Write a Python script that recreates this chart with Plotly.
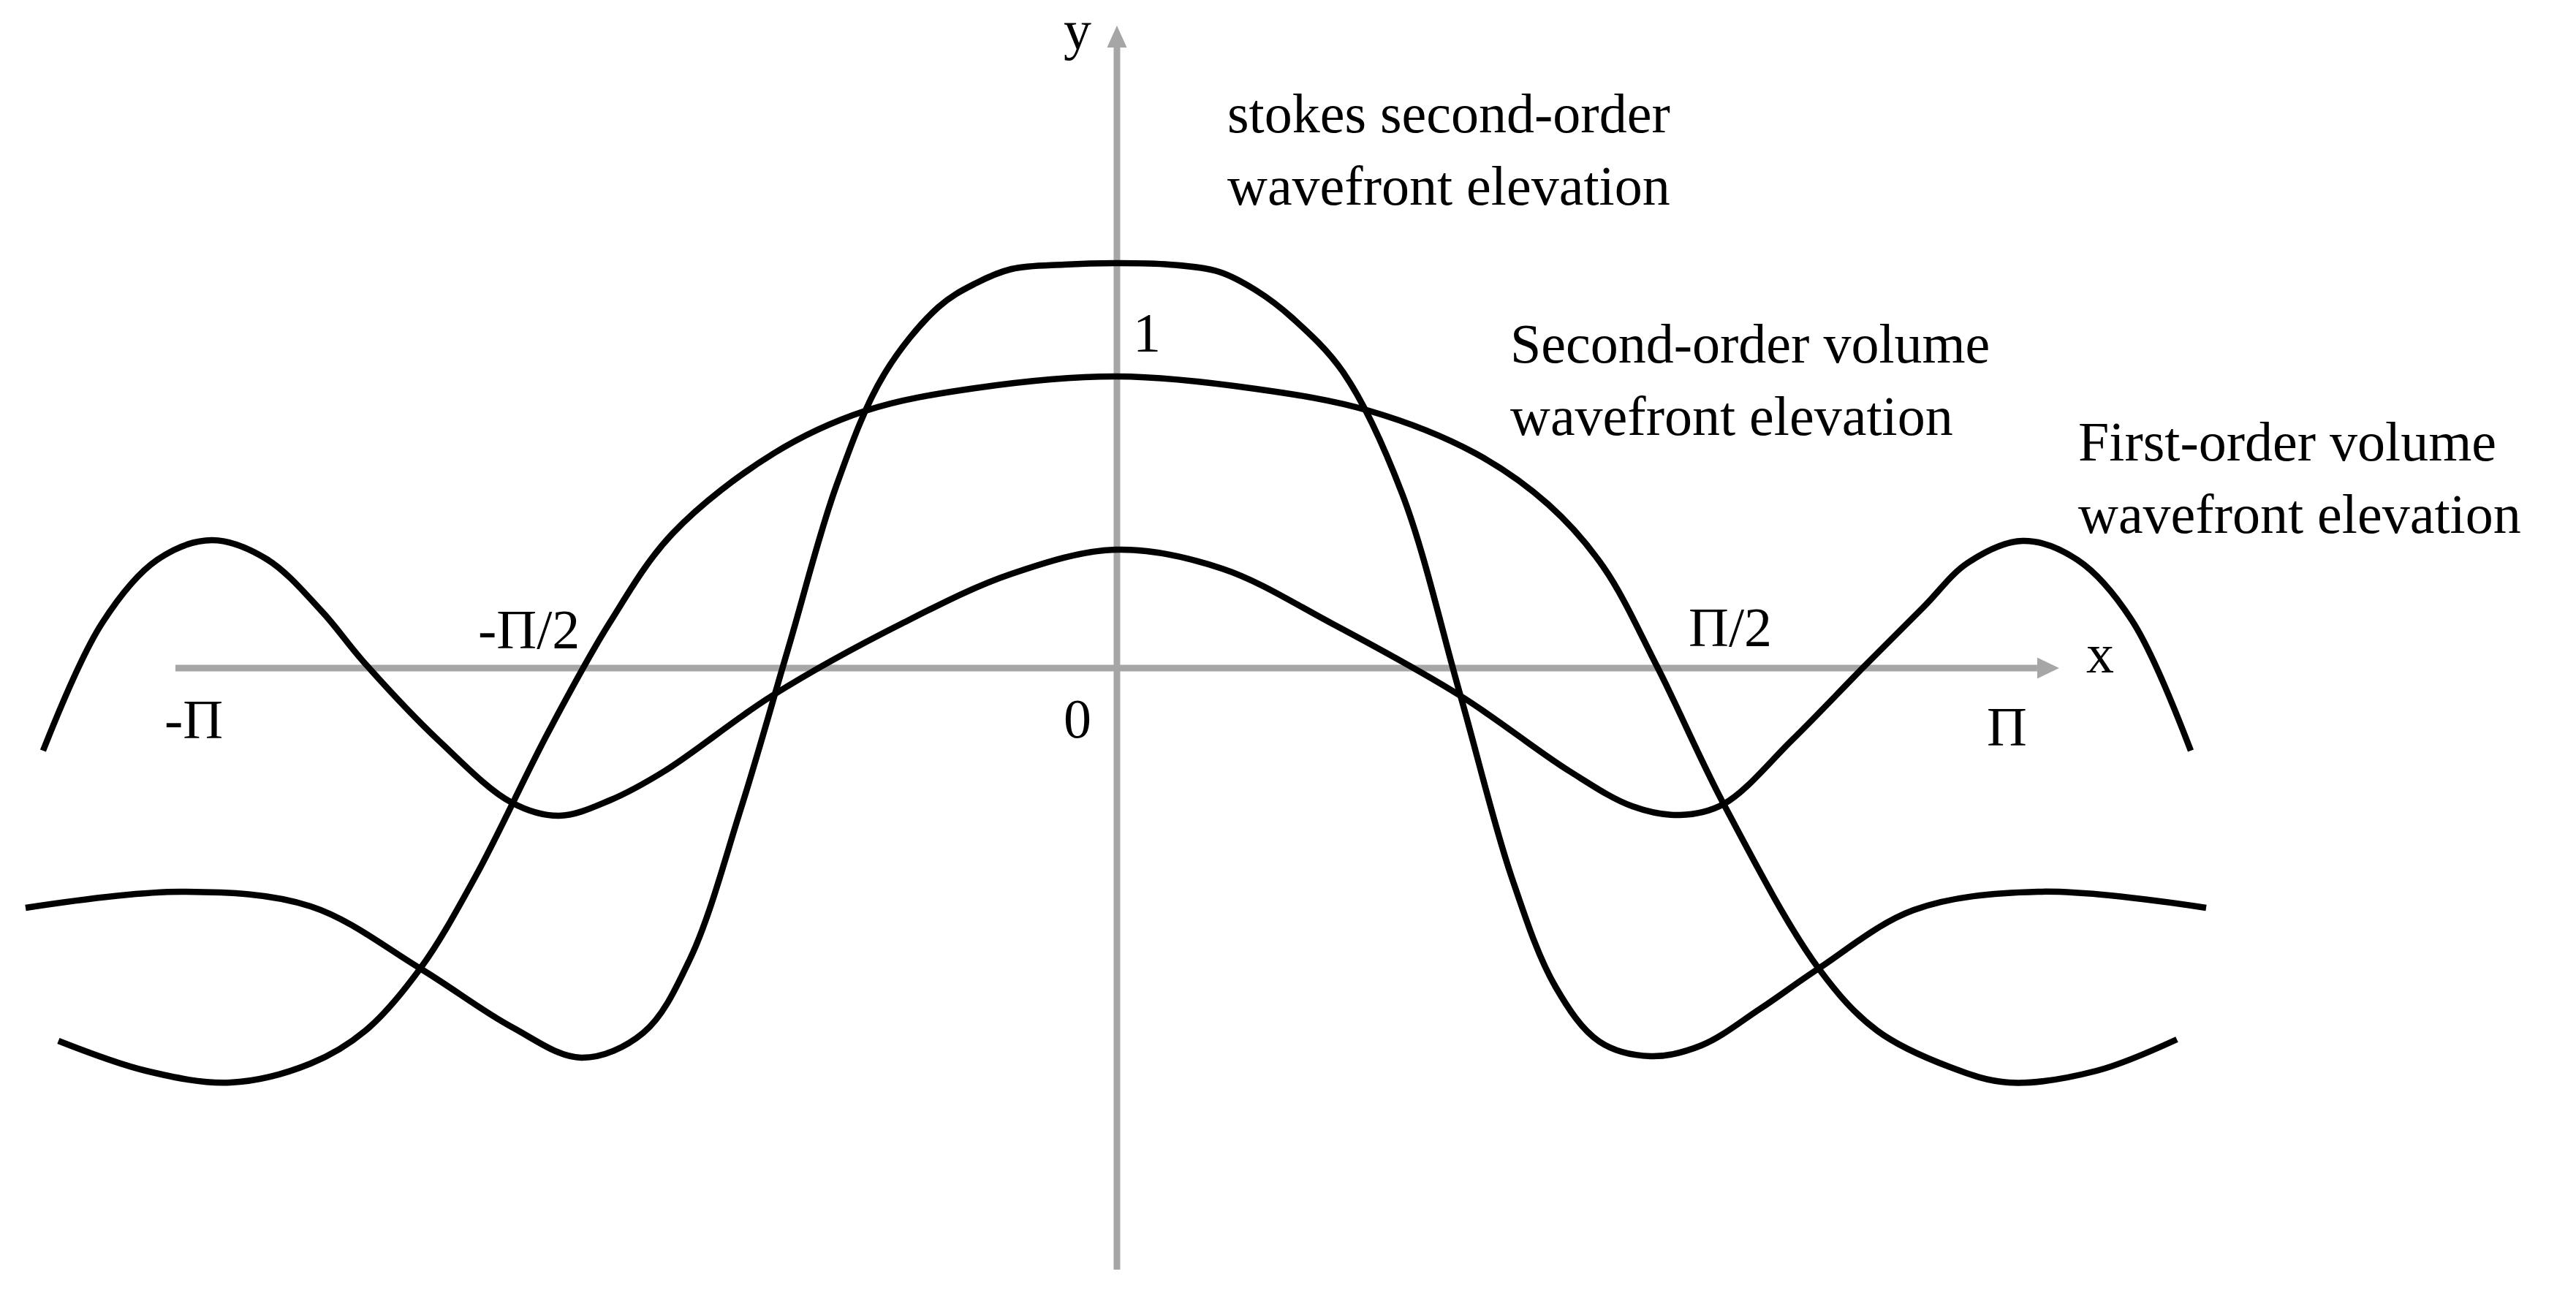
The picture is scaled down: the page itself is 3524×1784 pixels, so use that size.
import plotly.graph_objects as go

# x in units of pi, y in units of the "1" mark on the y axis
# first-order volume wavefront elevation
first_x = [-1.1895, -1.1239, -1.0632, -1.0024, -0.9417, -0.8810, -0.8348, -0.7514, -0.6704, -0.6178,
           -0.5619, -0.5012, -0.3822, -0.2381, -0.1166, 0.0,
           0.1166, 0.2381, 0.3806, 0.5012, 0.5709, 0.6235, 0.6721, 0.7482, 0.8275, 0.8939,
           0.9425, 1.0032, 1.0640, 1.1239, 1.1895]
first_y = [-0.2825, 0.155, 0.37, 0.4375, 0.3725, 0.195, 0.0225, -0.2475, -0.46, -0.505,
           -0.4525, -0.3525, -0.095, 0.1525, 0.3225, 0.405,
           0.34, 0.1525, -0.095, -0.3525, -0.4725, -0.5025, -0.465, -0.245, 0.005, 0.21,
           0.36, 0.435, 0.37, 0.165, -0.2825]

# second-order volume wavefront elevation
second_x = [-1.1725, -1.0753, -0.9822, -0.8931, -0.8324, -0.7717, -0.7109, -0.6300, -0.5619, -0.4923,
            -0.3798, -0.2785, -0.1571, 0.0,
            0.1538, 0.2794, 0.3968, 0.4777, 0.5385, 0.5992, 0.6721, 0.7773, 0.8421, 0.9231,
            0.9879, 1.0850, 1.1741]
second_y = [-1.275, -1.3775, -1.4175, -1.3525, -1.24, -1.0275, -0.715, -0.22, 0.155, 0.46,
            0.735, 0.88, 0.9575, 0.9975,
            0.955, 0.88, 0.735, 0.56, 0.3475, 0.0, -0.465, -1.0275, -1.24, -1.365,
            -1.4175, -1.3775, -1.27]

# stokes second-order wavefront elevation
stokes_x = [-1.2089, -1.0348, -0.8931, -0.7717, -0.6704, -0.5935, -0.5247, -0.4729, -0.4162, -0.3636,
            -0.3109, -0.2583, -0.1976, -0.1571, -0.1166, -0.0583, 0.0,
            0.0583, 0.1134, 0.1538, 0.1943, 0.2510, 0.3158, 0.3806, 0.4372, 0.4858, 0.5344,
            0.5911, 0.6478, 0.7126, 0.7773, 0.8826, 1.0202, 1.2065]
stokes_y = [-0.82, -0.765, -0.815, -1.0275, -1.2275, -1.3325, -1.2475, -0.995, -0.4775, 0.0725,
            0.6225, 1.0025, 1.235, 1.315, 1.365, 1.38, 1.385,
            1.38, 1.355, 1.2925, 1.1975, 1.01, 0.5975, -0.095, -0.715, -1.09, -1.2775,
            -1.3275, -1.29, -1.165, -1.0275, -0.8275, -0.765, -0.82]

tick_labels = ["-Π", "-Π/2", "0", "Π/2", "Π"]
curve_labels = ["stokes second-order<br>wavefront elevation",
                "Second-order volume<br>wavefront elevation",
                "First-order volume<br>wavefront elevation"]

X_RANGE = [-1.2372, 1.6162]
Y_RANGE = [-2.175, 2.285]
AXIS_COLOR = "#a6a6a6"
FONT = dict(family="Liberation Serif, Times New Roman, serif", size=76, color="black")

fig = go.Figure()

for xs, ys in [(first_x, first_y), (second_x, second_y), (stokes_x, stokes_y)]:
    fig.add_trace(go.Scatter(x=xs, y=ys, mode="lines",
                             line=dict(color="black", width=8.5, shape="spline", smoothing=1.0),
                             hoverinfo="skip", showlegend=False))

# axes with arrow heads
x_left, x_tip = -1.0429, 1.0437
y_bottom, y_tip = -2.0575, 2.1975
hx, hy = 0.0243, 0.03625      # x-arrow length / half width
vx, vy = 0.01093, 0.075       # y-arrow half width / length
fig.add_shape(type="line", x0=x_left, y0=0, x1=x_tip - hx, y1=0,
              line=dict(color=AXIS_COLOR, width=9), layer="below")
fig.add_shape(type="path", layer="below", fillcolor=AXIS_COLOR, line=dict(width=0),
              path=f"M {x_tip - hx},{-hy} L {x_tip},0 L {x_tip - hx},{hy} Z")
fig.add_shape(type="line", x0=0, y0=y_bottom, x1=0, y1=y_tip - vy,
              line=dict(color=AXIS_COLOR, width=9), layer="below")
fig.add_shape(type="path", layer="below", fillcolor=AXIS_COLOR, line=dict(width=0),
              path=f"M {-vx},{y_tip - vy} L 0,{y_tip} L {vx},{y_tip - vy} Z")

# tick labels
tick_pos = [(-1.0227, -0.065), (-0.6510, 0.2425), (-0.0437, -0.0625), (0.6794, 0.25), (0.9862, -0.09)]
for txt, (tx, ty) in zip(tick_labels, tick_pos):
    fig.add_annotation(x=tx, y=ty, text=txt, showarrow=False, xanchor="center", yanchor="top", font=FONT)

fig.add_annotation(x=0.0332, y=1.2575, text="1", showarrow=False, xanchor="center", yanchor="top", font=FONT)
fig.add_annotation(x=1.0891, y=0.16, text="x", showarrow=False, xanchor="center", yanchor="top", font=FONT)
fig.add_annotation(x=-0.0437, y=2.0715, text="y", showarrow=False, xanchor="center", yanchor="bottom", font=FONT)

# curve labels
label_pos = [(0.1206, 2.0075), (0.4340, 1.22), (1.0632, 0.885)]
for txt, (tx, ty) in zip(curve_labels, label_pos):
    fig.add_annotation(x=tx, y=ty, text=txt, showarrow=False, xanchor="left", yanchor="top",
                       align="left", font=FONT)

fig.update_layout(
    width=3524, height=1784,
    margin=dict(l=0, r=0, t=0, b=0),
    paper_bgcolor="white", plot_bgcolor="white",
    xaxis=dict(range=X_RANGE, visible=False, fixedrange=True),
    yaxis=dict(range=Y_RANGE, visible=False, fixedrange=True),
    showlegend=False,
)

fig.write_html("out.html", config={"displayModeBar": False},
               post_script="document.body.style.margin='0px';document.body.style.overflow='hidden';")
